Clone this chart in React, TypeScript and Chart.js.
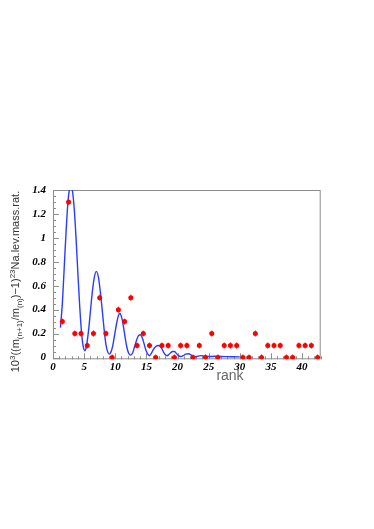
import React, { useEffect, useRef } from "react";
import { Chart, registerables } from "chart.js";

Chart.register(...registerables);

// measured points (rank, value)
const pointX = [1.5, 2.5, 3.5, 4.5, 5.5, 6.5, 7.5, 8.5, 9.5, 10.5, 11.5, 12.5, 13.5, 14.5, 15.5, 16.5, 17.5, 18.5, 19.5, 20.5, 21.5, 22.5, 23.5, 24.5, 25.5, 26.5, 27.5, 28.5, 29.5, 30.5, 31.5, 32.5, 33.5, 34.5, 35.5, 36.5, 37.5, 38.5, 39.5, 40.5, 41.5, 42.5];
const pointY = [0.3, 1.3, 0.2, 0.2, 0.1, 0.2, 0.5, 0.2, 0.0, 0.4, 0.3, 0.5, 0.1, 0.2, 0.1, 0.0, 0.1, 0.1, 0.0, 0.1, 0.1, 0.0, 0.1, 0.0, 0.2, 0.0, 0.1, 0.1, 0.1, 0.0, 0.0, 0.2, 0.0, 0.1, 0.1, 0.1, 0.0, 0.0, 0.1, 0.1, 0.1, 0.0];
const pointErr = 0.028;

// fitted curve
const curveX = [1.2, 1.5, 1.8, 2.1, 2.4, 2.7, 2.9, 3.1, 3.4, 3.7, 4.0, 4.3, 4.6, 4.9, 5.1, 5.35, 5.7, 6.0, 6.3, 6.6, 6.95, 7.3, 7.6, 7.9, 8.2, 8.5, 8.8, 9.05, 9.3, 9.6, 9.9, 10.2, 10.45, 10.7, 10.95, 11.25, 11.55, 11.85, 12.15, 12.5, 12.8, 13.1, 13.4, 13.7, 14.0, 14.3, 14.6, 14.9, 15.2, 15.5, 15.8, 16.1, 16.5, 16.95, 17.35, 17.7, 18.0, 18.3, 18.6, 18.9, 19.2, 19.5, 19.8, 20.1, 20.5, 20.9, 21.3, 21.8, 22.2, 22.6, 23.1, 23.7, 24.3, 25.0, 26.0, 27.0, 28.0, 29.0, 30.0];
const curveY = [0.25, 0.45, 0.75, 1.05, 1.3, 1.42, 1.435, 1.4, 1.25, 1.0, 0.7, 0.42, 0.2, 0.08, 0.057, 0.09, 0.22, 0.38, 0.54, 0.66, 0.72, 0.67, 0.55, 0.4, 0.24, 0.11, 0.045, 0.028, 0.045, 0.1, 0.19, 0.28, 0.34, 0.37, 0.35, 0.28, 0.18, 0.09, 0.035, 0.02, 0.04, 0.09, 0.14, 0.18, 0.19, 0.17, 0.12, 0.065, 0.03, 0.015, 0.035, 0.065, 0.092, 0.1, 0.085, 0.05, 0.025, 0.015, 0.025, 0.04, 0.05, 0.05, 0.035, 0.018, 0.008, 0.015, 0.028, 0.032, 0.02, 0.006, 0.008, 0.016, 0.012, 0.008, 0.01, 0.008, 0.007, 0.006, 0.005];

const xTicks = [0, 5, 10, 15, 20, 25, 30, 35, 40];
const yTicks = [0, 0.2, 0.4, 0.6, 0.8, 1, 1.2, 1.4];

const X_MIN = 0, X_MAX = 43, Y_MIN = -0.015, Y_MAX = 1.4;

const FRAME = "#8c8c8c";
const tickFont = { family: "'Liberation Serif', 'DejaVu Serif', serif", size: 11, weight: "bold" as const, style: "italic" as const };

const framePlugin = {
  id: "rootFrame",
  beforeDatasetsDraw(chart: any) {
    const { ctx, chartArea: a, scales } = chart;
    ctx.save();
    ctx.strokeStyle = FRAME;
    ctx.lineWidth = 1;
    ctx.strokeRect(a.left + 0.5, a.top + 0.5, a.right - a.left - 1, a.bottom - a.top - 1);
    ctx.beginPath();
    for (let i = 0; i <= 28; i++) {
      const v = i * 0.05;
      const y = Math.round(scales.y.getPixelForValue(v)) + 0.5;
      const len = i % 4 === 0 ? 6 : 3;
      ctx.moveTo(a.left, y);
      ctx.lineTo(a.left + len, y);
    }
    for (let v = 0; v <= 43; v++) {
      const x = Math.round(scales.x.getPixelForValue(v)) + 0.5;
      const len = v % 5 === 0 ? 6 : 3;
      ctx.moveTo(x, a.bottom);
      ctx.lineTo(x, a.bottom - len);
    }
    ctx.stroke();
    ctx.restore();
  },
};

const errPlugin = {
  id: "errBars",
  afterDatasetsDraw(chart: any) {
    const { ctx, chartArea: a, scales } = chart;
    ctx.save();
    ctx.beginPath();
    ctx.rect(a.left, a.top, a.right - a.left, a.bottom - a.top);
    ctx.clip();
    ctx.strokeStyle = "rgba(255,0,0,0.75)";
    ctx.lineWidth = 0.8;
    ctx.beginPath();
    pointX.forEach((px, i) => {
      const x = scales.x.getPixelForValue(px);
      ctx.moveTo(x, scales.y.getPixelForValue(pointY[i] - pointErr));
      ctx.lineTo(x, scales.y.getPixelForValue(pointY[i] + pointErr));
    });
    ctx.stroke();
    ctx.restore();
  },
};

const titlePlugin = {
  id: "titles",
  afterDraw(chart: any) {
    const { ctx, chartArea: a } = chart;
    ctx.save();
    // x title
    ctx.fillStyle = "#666666";
    ctx.font = "14px 'Liberation Sans', Arial, sans-serif";
    ctx.textAlign = "center";
    ctx.textBaseline = "middle";
    ctx.fillText("rank", a.left + 177, a.bottom + 17);
    // y title with sub/superscripts
    const segs: [string, number][] = [
      ["10", 0], ["3", 1], ["((m", 0], ["(n+1)", -1], ["/m", 0], ["(n)", -1], [")\u22121)", 0], ["23", 1], ["Na.lev.mass.rat.", 0],
    ];
    const base = 11, small = 8;
    ctx.translate(a.left - 38, a.bottom + 13);
    ctx.rotate(-Math.PI / 2);
    ctx.textAlign = "left";
    ctx.textBaseline = "alphabetic";
    ctx.fillStyle = "#333333";
    let x = 0;
    for (const [t, k] of segs) {
      const fs = k === 0 ? base : small;
      ctx.font = `${fs}px 'Liberation Sans', Arial, sans-serif`;
      const dy = k === 1 ? -4.5 : k === -1 ? 2.5 : 0;
      ctx.fillText(t, x, 4 + dy);
      x += ctx.measureText(t).width;
    }
    ctx.restore();
  },
};

export default function App() {
  const ref = useRef<HTMLCanvasElement | null>(null);
  useEffect(() => {
    if (!ref.current) return;
    const chart = new Chart(ref.current, {
      type: "scatter",
      data: {
        datasets: [
          {
            label: "data",
            data: pointX.map((x, i) => ({ x, y: pointY[i] })),
            backgroundColor: "#ff0000",
            borderWidth: 0,
            pointRadius: 2.5,
            pointStyle: "circle",
            order: 0,
          },
          {
            label: "fit",
            type: "line",
            data: curveX.map((x, i) => ({ x, y: curveY[i] })),
            borderColor: "#2b3bff",
            borderWidth: 1.4,
            pointRadius: 0,
            showLine: true,
            fill: false,
            cubicInterpolationMode: "monotone",
            order: 1,
          } as any,
        ],
      },
      options: {
        responsive: false,
        animation: false,
        layout: { padding: { left: 0, top: 190, right: 53.3, bottom: 149.7 } },
        plugins: { legend: { display: false }, tooltip: { enabled: false } },
        scales: {
          x: {
            type: "linear",
            min: X_MIN,
            max: X_MAX,
            grid: { display: false, drawTicks: false },
            border: { display: false },
            afterBuildTicks: (s: any) => { s.ticks = xTicks.map((v) => ({ value: v })); },
            afterFit: (s: any) => { s.height = 20; },
            ticks: { color: "#000", font: tickFont, padding: 1, maxRotation: 0, autoSkip: false, callback: (v: any) => String(v) },
          },
          y: {
            type: "linear",
            min: Y_MIN,
            max: Y_MAX,
            grid: { display: false, drawTicks: false },
            border: { display: false },
            afterBuildTicks: (s: any) => { s.ticks = yTicks.map((v) => ({ value: v })); },
            afterFit: (s: any) => { s.width = 53; },
            ticks: { color: "#000", font: tickFont, padding: 7, autoSkip: false, callback: (v: any) => String(Math.round(v * 10) / 10) },
          },
        },
      },
      plugins: [framePlugin, errPlugin, titlePlugin],
    });
    return () => chart.destroy();
  }, []);
  return (
    <div style={{ position: "absolute", left: 0, top: 0, width: 374, height: 529, background: "#fff" }}>
      <canvas ref={ref} width={374} height={529} style={{ width: 374, height: 529, display: "block" }} />
    </div>
  );
}
